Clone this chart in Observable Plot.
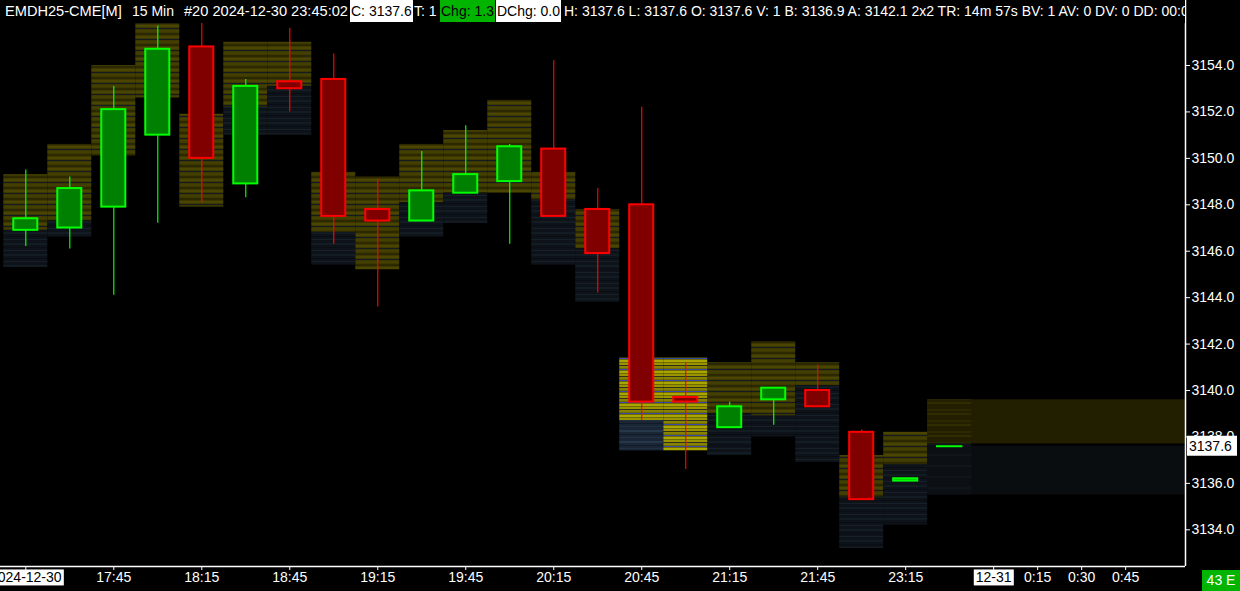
<!DOCTYPE html>
<html><head><meta charset="utf-8">
<script src="https://cdn.jsdelivr.net/npm/d3@7"></script>
<script src="https://cdn.jsdelivr.net/npm/@observablehq/plot@0.6"></script>
<style>
html,body{margin:0;padding:0;background:#000;overflow:hidden}
#wrap{position:relative;width:1240px;height:591px;background:#000;font-family:"Liberation Sans",Arial,sans-serif}
#hdr{position:absolute;left:0;top:0;width:1185px;height:23px;background:#000;overflow:hidden;white-space:nowrap;color:#fff;font-size:14px;z-index:2}
#hdr span{position:absolute;top:0;height:22px;line-height:22px}
#hdr .box{background:#fff;color:#000;padding:0 1px}
#hdr .gbox{background:#00b400;color:#000;padding:0 1px}
#cnt{position:absolute;left:1202px;top:570px;width:38px;height:21px;background:#00b400;color:#fff;font-size:14px;line-height:21px;text-align:center;z-index:2}
</style></head>
<body><div id="wrap">
<div id="hdr">
<span style="left:5px;font-size:14.6px">EMDH25-CME[M]</span>
<span style="left:132px">15 Min</span>
<span style="left:184px;font-size:14.6px">#20 2024-12-30 23:45:02</span>
<span class="box" style="left:350px">C: 3137.6</span>
<span style="left:414px">T: 1</span>
<span class="gbox" style="left:440px">Chg: 1.3</span>
<span class="box" style="left:496px">DChg: 0.0</span>
<span style="left:564px">H: 3137.6 L: 3137.6 O: 3137.6 V: 1 B: 3136.9 A: 3142.1 2x2 TR: 14m 57s BV: 1 AV: 0 DV: 0 DD: 00:00</span>
</div>
<div id="cnt">43 E</div>
</div>
<script>
// ---- data ----
const slots = d3.range(22);
const open  = [3146.9,3147.0,3147.9,3151.0,3154.8,3148.9,3153.3,3153.4,3147.8,3147.3,3148.5,3149.0,3150.4,3147.8,3148.0,3139.7,3138.4,3139.6,3140.0,3138.2,3136.1,3137.6];
const high  = [3149.5,3149.2,3153.1,3155.7,3156.0,3153.4,3155.6,3154.5,3149.1,3150.3,3151.4,3150.6,3154.2,3148.7,3152.2,3141.2,3139.5,3140.1,3141.1,3138.3,3136.2,3137.6];
const low   = [3146.2,3146.1,3144.1,3147.2,3148.1,3148.3,3152.0,3146.3,3143.6,3147.3,3148.5,3146.3,3147.5,3144.2,3138.7,3136.6,3138.4,3138.5,3139.3,3135.3,3136.1,3137.6];
const close = [3147.4,3148.7,3152.1,3154.7,3150.0,3153.1,3153.0,3147.5,3147.3,3148.6,3149.3,3150.5,3147.5,3145.9,3139.5,3139.5,3139.3,3140.1,3139.3,3135.3,3136.2,3137.6];
const profTop   = [3149.3,3150.6,3154.0,3155.8,3151.9,3155.0,3155.0,3149.4,3149.2,3150.6,3151.2,3152.5,3149.4,3147.8,3141.4,3141.4,3141.2,3142.1,3141.2,3137.2,3138.2,3139.6];
const profSplit = [3146.9,3147.3,3150.1,3152.6,3147.9,3152.2,3153.1,3146.8,3145.2,3148.1,3148.5,3148.5,3148.2,3146.1,3138.7,3137.4,3139.0,3138.9,3140.2,3135.4,3136.8,3137.7];
const profBot   = [3145.3,3146.6,3150.1,3152.6,3147.9,3151.0,3151.0,3145.4,3145.2,3146.6,3147.2,3148.5,3145.4,3143.8,3137.4,3137.4,3137.2,3138.0,3136.9,3133.2,3134.2,3135.5];
const profLevel = [1,1,1,1,1,1,1,1,1,1,1,1,1,1,2,2,1,1,1,1,1,0];
const devTop = 3139.6, devSplit = 3137.7, devBot = 3135.5;
const timeTickSlots  = [0,2,4,6,8,10,12,14,16,18,20,22,23,24,25];
const timeTickLabels = ["2024-12-30","17:45","18:15","18:45","19:15","19:45","20:15","20:45","21:15","21:45","23:15","12-31","0:15","0:30","0:45"];
const dateLabels = ["2024-12-30","12-31"];
const priceTicks = [3134,3136,3138,3140,3142,3144,3146,3148,3150,3152,3154];
const lastPrice = 3137.6;

// ---- table ----
const bars = slots.map(i => ({slot:i, open:open[i], high:high[i], low:low[i], close:close[i],
  pTop:profTop[i], pSplit:profSplit[i], pBot:profBot[i], level:profLevel[i]}));
const xDomain = [-0.575, 26.36];
const yDomain = [3132.42, 3156.80];
const labelMap = new Map(timeTickSlots.map((s,i)=>[s,timeTickLabels[i]]));
const BW = 0.273;
const up = d => d.close >= d.open;
const bodies = bars.filter(d => d.open !== d.close);
const flats = bars.filter(d => d.open === d.close);

const profMarks = [];
for (const [lvl, upFill, loFill] of [[1,"url(#pOlive)","url(#pSlate)"],[2,"url(#pBright)","url(#pBrightLow)"],[0,"url(#pDim)","url(#pDimLow)"]]) {
  const sub = bars.filter(d => d.level === lvl);
  profMarks.push(Plot.rect(sub, {x1:d=>d.slot-0.5, x2:d=>d.slot+0.5, y1:"pSplit", y2:"pTop", fill:upFill}));
  profMarks.push(Plot.rect(sub.filter(d=>d.pBot<d.pSplit), {x1:d=>d.slot-0.5, x2:d=>d.slot+0.5, y1:"pBot", y2:"pSplit", fill:loFill}));
}

const chart = Plot.plot({
  width:1240, height:591, marginTop:0, marginLeft:0, marginRight:55, marginBottom:25,
  style:{background:"#000", color:"#fff", fontFamily:"Liberation Sans, Arial, sans-serif", fontSize:"14px"},
  x:{type:"linear", domain:xDomain, axis:null, label:null},
  y:{domain:yDomain, axis:null, label:null},
  marks:[
    Plot.rect([0], {x1:20.5, x2:xDomain[1], y1:devSplit, y2:devTop, fill:"#221f00"}),
    Plot.rect([0], {x1:20.5, x2:xDomain[1], y1:devBot, y2:devSplit-0.1, fill:"#0a0d10"}),
    ...profMarks,
    Plot.ruleX(bars, {x:"slot", y1:"low", y2:"high", stroke:d=>up(d)?"#00ff00":"#ff0000", strokeWidth:1.2}),
    Plot.rect(bodies, {x1:d=>d.slot-BW, x2:d=>d.slot+BW, y1:d=>Math.min(d.open,d.close), y2:d=>Math.max(d.open,d.close),
      fill:d=>up(d)?"#008000":"#800000", stroke:d=>up(d)?"#00ff00":"#ff0000", strokeWidth:2}),
    Plot.ruleY(flats, {y:"close", x1:d=>d.slot-0.3, x2:d=>d.slot+0.3, stroke:"#00ff00", strokeWidth:2}),
    Plot.ruleY([yDomain[0]], {stroke:"#fff", strokeWidth:1.5}),
    Plot.ruleX([xDomain[1]], {stroke:"#fff", strokeWidth:1.5}),
    Plot.axisX(timeTickSlots, {anchor:"bottom", label:null, tickFormat:d=>labelMap.get(d), tickSize:4, tickPadding:2, stroke:"#fff", fill:"#fff", fontSize:14}),
    Plot.axisY(priceTicks, {anchor:"right", label:null, tickFormat:d=>d.toFixed(1), tickSize:4, tickPadding:2, stroke:"#fff", fill:"#fff", fontSize:14})
  ]
});
chart.style.position = "absolute"; chart.style.left = "0"; chart.style.top = "0";
document.getElementById("wrap").appendChild(chart);

// ---- patterns ----
const NS = "http://www.w3.org/2000/svg";
function pattern(id, base, stripes) {
  const p = document.createElementNS(NS, "pattern");
  p.setAttribute("id", id); p.setAttribute("patternUnits", "userSpaceOnUse");
  p.setAttribute("width", 8); p.setAttribute("height", 11);
  const r0 = document.createElementNS(NS, "rect");
  r0.setAttribute("width", 8); r0.setAttribute("height", 11); r0.setAttribute("fill", base); p.appendChild(r0);
  for (const [y,h,c] of stripes) {
    const r = document.createElementNS(NS, "rect");
    r.setAttribute("y", y); r.setAttribute("width", 8); r.setAttribute("height", h); r.setAttribute("fill", c); p.appendChild(r);
  }
  return p;
}
const defs = document.createElementNS(NS, "defs");
defs.appendChild(pattern("pOlive", "#3c3800", [[0,2,"#2c2900"],[3,2,"#4a4500"],[6,1,"#141b22"],[8,2,"#433f00"]]));
defs.appendChild(pattern("pSlate", "#0d1319", [[1,2,"#131b23"],[5,1,"#0a0e12"],[8,1,"#172029"]]));
defs.appendChild(pattern("pBright", "#6f6b00", [[0,2,"#9a9400"],[2,1,"#30301a"],[3,2,"#878200"],[6,1,"#3848a8"],[8,2,"#aaa600"]]));
defs.appendChild(pattern("pBrightLow", "#1a2636", [[1,2,"#27374a"],[5,1,"#121a26"],[8,1,"#223044"]]));
defs.appendChild(pattern("pDim", "#221f00", [[2,2,"#2c2900"],[6,2,"#2f2c00"]]));
defs.appendChild(pattern("pDimLow", "#0c1014", [[3,2,"#10151b"]]));
chart.insertBefore(defs, chart.firstChild);

// ---- highlighted date labels ----
for (const t of chart.querySelectorAll("text")) {
  if (dateLabels.includes(t.textContent)) {
    const b = t.getBBox();
    const r = document.createElementNS(NS, "rect");
    r.setAttribute("x", b.x - 2); r.setAttribute("y", b.y);
    r.setAttribute("width", b.width + 4); r.setAttribute("height", b.height);
    r.setAttribute("fill", "#fff");
    if (t.getAttribute("transform")) r.setAttribute("transform", t.getAttribute("transform"));
    t.parentNode.insertBefore(r, t);
    t.setAttribute("fill", "#000");
  }
}

// ---- last price marker ----
const yy = chart.scale("y").apply(lastPrice);
const g = document.createElementNS(NS, "g");
const br = document.createElementNS(NS, "rect");
br.setAttribute("x", 1187); br.setAttribute("y", yy - 10); br.setAttribute("width", 50); br.setAttribute("height", 20); br.setAttribute("fill", "#fff");
const bt = document.createElementNS(NS, "text");
bt.setAttribute("x", 1189); bt.setAttribute("y", yy); bt.setAttribute("dy", "0.35em");
bt.setAttribute("text-anchor", "start");
bt.setAttribute("fill", "#000"); bt.setAttribute("font-size", 14); bt.textContent = lastPrice.toFixed(1);
g.appendChild(br); g.appendChild(bt); chart.appendChild(g);
</script>
</body></html>
